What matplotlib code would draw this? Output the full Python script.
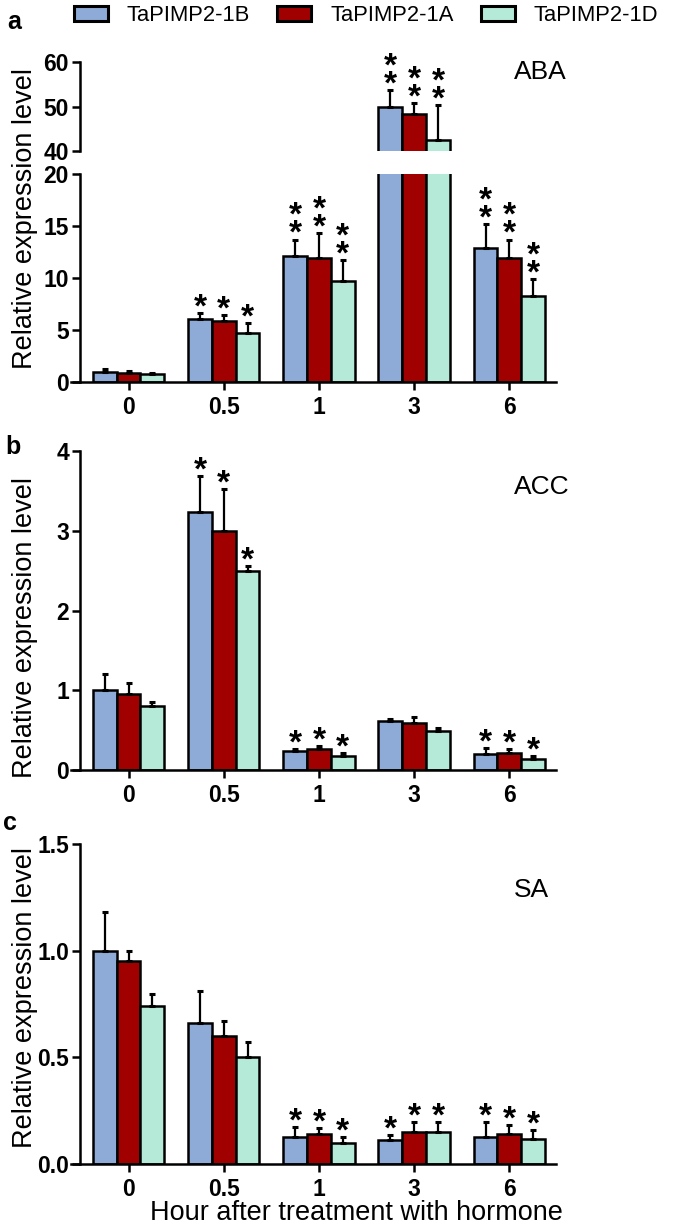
import matplotlib
matplotlib.use('Agg')
import matplotlib.pyplot as plt
import numpy as np
from matplotlib.patches import Patch

plt.rcParams['font.family'] = ['Liberation Sans', 'DejaVu Sans']

# ---------------- data ----------------
times = ['0', '0.5', '1', '3', '6']
genes = ['TaPIMP2-1B', 'TaPIMP2-1A', 'TaPIMP2-1D']
colors = ['#8DABD6', '#A10000', '#B5EAD8']

aba_1B = [1.0, 6.1, 12.1, 50.0, 12.9]
aba_1A = [0.9, 5.9, 11.9, 48.3, 11.9]
aba_1D = [0.75, 4.7, 9.7, 42.5, 8.3]
aba_1B_sd = [0.25, 0.5, 1.6, 3.7, 2.3]
aba_1A_sd = [0.15, 0.5, 2.4, 2.5, 1.8]
aba_1D_sd = [0.1, 1.0, 2.0, 7.9, 1.6]
aba_sig = ['', '*', '**', '**', '**']

acc_1B = [1.0, 3.24, 0.24, 0.61, 0.20]
acc_1A = [0.95, 3.0, 0.26, 0.59, 0.21]
acc_1D = [0.80, 2.49, 0.17, 0.49, 0.14]
acc_1B_sd = [0.2, 0.45, 0.02, 0.03, 0.08]
acc_1A_sd = [0.14, 0.52, 0.04, 0.08, 0.05]
acc_1D_sd = [0.05, 0.07, 0.04, 0.04, 0.04]
acc_sig = ['', '*', '*', '', '*']

sa_1B = [1.0, 0.66, 0.125, 0.114, 0.125]
sa_1A = [0.95, 0.60, 0.142, 0.148, 0.142]
sa_1D = [0.74, 0.50, 0.10, 0.148, 0.117]
sa_1B_sd = [0.18, 0.15, 0.05, 0.022, 0.073]
sa_1A_sd = [0.05, 0.07, 0.028, 0.05, 0.041]
sa_1D_sd = [0.055, 0.07, 0.028, 0.05, 0.042]
sa_sig = ['', '', '*', '*', '*']

# ---------------- layout ----------------
W, H = 675, 1229
fig = plt.figure(figsize=(W / 100, H / 100), dpi=100)

def fx(px):
    return px / W

def fy(py):
    return 1 - py / H

AX_L, AX_R = 71, 556

def make_ax(top, bottom):
    return fig.add_axes([fx(AX_L), fy(bottom), fx(AX_R - AX_L), (bottom - top) / H])

LW = 1.8
TICK_FS = 16.5
BAR_W = 0.25
STAR_FS = 24
STAR_OFF = -2.5

def style(ax, show_x=True):
    ax.set_xlim(-0.605, 4.49)
    for s in ['top', 'right']:
        ax.spines[s].set_visible(False)
    ax.spines['left'].set_position(('data', -0.51))
    ax.spines['left'].set_linewidth(LW)
    ax.spines['bottom'].set_linewidth(LW)
    ax.tick_params(axis='both', direction='out', length=6, width=LW,
                   labelsize=TICK_FS, pad=2)
    ax.tick_params(axis='x', pad=4)
    for lab in ax.get_yticklabels() + ax.get_xticklabels():
        lab.set_fontweight('bold')
    if show_x:
        ax.set_xticks(np.arange(len(times)))
        ax.set_xticklabels(times, fontweight='bold', fontsize=TICK_FS)
    else:
        ax.spines['bottom'].set_visible(False)
        ax.set_xticks([])

def draw_sig(ax, xs, tops, marks, ylim):
    for xi, t, mk in zip(xs, tops, marks):
        if not mk:
            continue
        if not (ylim[0] <= t <= ylim[1]):
            continue
        ax.annotate('\n'.join(mk), xy=(xi, t), xytext=(0, STAR_OFF),
                    textcoords='offset points', ha='center', va='baseline',
                    multialignment='center', linespacing=0.46, fontweight='bold',
                    fontsize=STAR_FS, annotation_clip=False, zorder=4)

def draw_group(ax, means_list, sds_list, sig, ylim):
    x = np.arange(len(times))
    for i in range(3):
        xi = x + (i - 1) * BAR_W
        ax.bar(xi, means_list[i], width=BAR_W, color=colors[i], edgecolor='black',
               linewidth=LW, zorder=2)
        ax.errorbar(xi, means_list[i], yerr=[np.zeros(len(times)), sds_list[i]],
                    fmt='none', ecolor='black', elinewidth=1.6, capsize=2.5,
                    capthick=2.2, zorder=3)
        tops = np.array(means_list[i]) + np.array(sds_list[i])
        draw_sig(ax, xi, tops, sig, ylim)
    ax.set_ylim(*ylim)

# ---------- Panel a (broken axis) ----------
ax_up = make_ax(62, 151)
ax_lo = make_ax(174, 382)
aba_means = [aba_1B, aba_1A, aba_1D]
aba_sds = [aba_1B_sd, aba_1A_sd, aba_1D_sd]
draw_group(ax_up, aba_means, aba_sds, aba_sig, (40, 60))
draw_group(ax_lo, aba_means, aba_sds, aba_sig, (0, 20))
ax_up.set_yticks([40, 50, 60])
ax_lo.set_yticks([0, 5, 10, 15, 20])
style(ax_up, show_x=False)
style(ax_lo, show_x=True)

# ---------- Panel b ----------
ax_b = make_ax(451, 770)
draw_group(ax_b, [acc_1B, acc_1A, acc_1D], [acc_1B_sd, acc_1A_sd, acc_1D_sd], acc_sig, (0, 4))
ax_b.set_yticks([0, 1, 2, 3, 4])
style(ax_b)

# ---------- Panel c ----------
ax_c = make_ax(844, 1164)
draw_group(ax_c, [sa_1B, sa_1A, sa_1D], [sa_1B_sd, sa_1A_sd, sa_1D_sd], sa_sig, (0, 1.5))
ax_c.set_yticks([0.0, 0.5, 1.0, 1.5])
ax_c.set_yticklabels(['0.0', '0.5', '1.0', '1.5'])
style(ax_c)

# ---------- texts ----------
YL_FS = 19.5
fig.text(fx(25), fy(219), 'Relative expression level', rotation=90,
         ha='center', va='center', fontsize=YL_FS)
fig.text(fx(25), fy(627), 'Relative expression level', rotation=90,
         ha='center', va='center', fontsize=YL_FS)
fig.text(fx(25), fy(997), 'Relative expression level', rotation=90,
         ha='center', va='center', fontsize=YL_FS)
fig.text(fx(356), fy(1213), 'Hour after treatment with hormone',
         ha='center', va='center', fontsize=YL_FS)

fig.text(fx(514), fy(72), 'ABA', ha='left', va='center', fontsize=19)
fig.text(fx(514), fy(487), 'ACC', ha='left', va='center', fontsize=19)
fig.text(fx(514), fy(890), 'SA', ha='left', va='center', fontsize=19)

fig.text(fx(7), fy(22), 'a', ha='left', va='center', fontsize=18, fontweight='bold')
fig.text(fx(5), fy(447), 'b', ha='left', va='center', fontsize=18, fontweight='bold')
fig.text(fx(3), fy(823), 'c', ha='left', va='center', fontsize=18, fontweight='bold')

handles = [Patch(facecolor=c, edgecolor='black', linewidth=2.2) for c in colors]
fig.legend(handles, genes, loc='center left', bbox_to_anchor=(fx(74), fy(15.5)),
           ncol=3, frameon=False, fontsize=15.8, handlelength=1.55, handleheight=0.7,
           handletextpad=0.85, columnspacing=1.25, borderpad=0, borderaxespad=0)

fig.savefig('out.png', dpi=100)
